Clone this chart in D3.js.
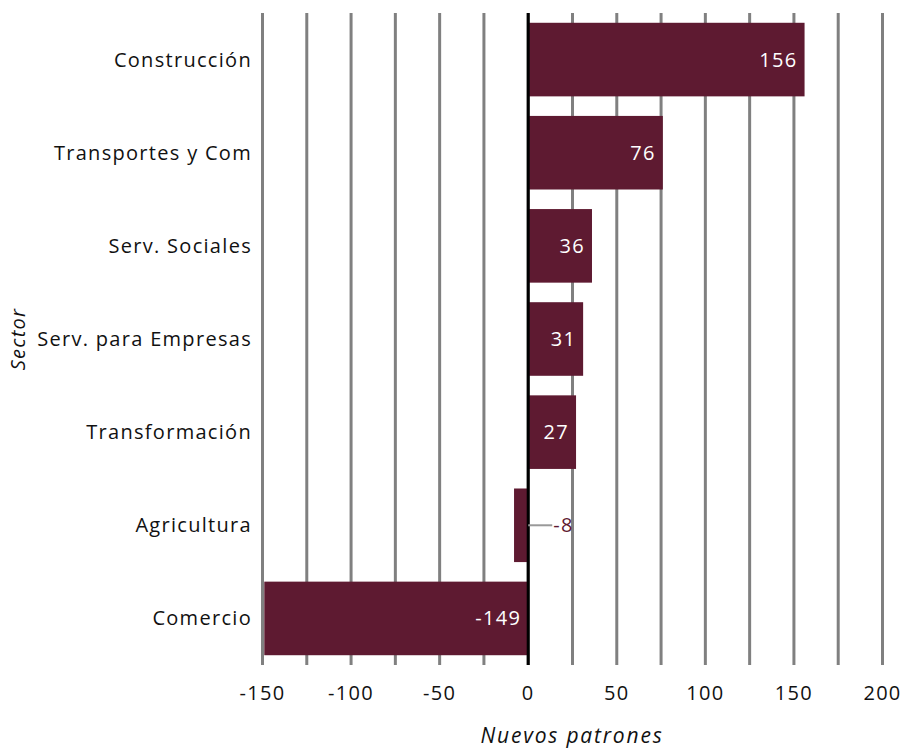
<!DOCTYPE html>
<html><head><meta charset="utf-8">
<script src="https://cdn.jsdelivr.net/npm/d3@7"></script>
<style>body{margin:0;background:#fff;} text{font-family:"Open Sans","Noto Sans",sans-serif;letter-spacing:1.3px;}</style>
</head><body>
<svg id="c" width="904" height="749"></svg>
<script>
const categories = ["Construcción","Transportes y Com","Serv. Sociales","Serv. para Empresas","Transformación","Agricultura","Comercio"];
const values = [156,76,36,31,27,-8,-149];
const ticks = [-150,-100,-50,0,50,100,150,200];
const gridTicks = d3.range(-150,201,25);

const svg = d3.select("#c");
const color = "#5e1a31";
const fs = 20;
const x = d3.scaleLinear().domain([-150,200]).range([262.5,882.5]);
const y = d3.scaleBand().domain(categories).range([13,665]).paddingInner(0.21).paddingOuter(0.105);

// grid
svg.append("g").selectAll("line").data(gridTicks).join("line")
  .attr("x1",d=>x(d)).attr("x2",d=>x(d)).attr("y1",13).attr("y2",665)
  .attr("stroke","#808080").attr("stroke-width",3);

// bars
svg.append("g").selectAll("rect").data(values).join("rect")
  .attr("x",d=>x(Math.min(0,d))).attr("width",d=>Math.abs(x(d)-x(0)))
  .attr("y",(d,i)=>y(categories[i])).attr("height",y.bandwidth())
  .attr("fill",color);

// zero line
svg.append("line").attr("x1",x(0)).attr("x2",x(0)).attr("y1",13).attr("y2",665)
  .attr("stroke","#000").attr("stroke-width",3);

// value labels
values.forEach((v,i)=>{
  const cy = y(categories[i]) + y.bandwidth()/2;
  const w = Math.abs(x(v)-x(0));
  if (w > 40) {
    const tx = v>0 ? x(v)-7 : x(0)-7;
    svg.append("text").attr("x",tx).attr("y",cy).attr("dy","0.35em")
      .attr("text-anchor","end").attr("fill","#fff").attr("font-size",fs).text(v);
  } else {
    svg.append("line").attr("x1",x(0)).attr("x2",x(0)+24).attr("y1",cy).attr("y2",cy)
      .attr("stroke","#999").attr("stroke-width",2);
    svg.append("text").attr("x",x(0)+25).attr("y",cy).attr("dy","0.35em")
      .attr("text-anchor","start").attr("fill",color).attr("font-size",fs).text(v);
  }
});

// category labels
svg.append("g").selectAll("text").data(categories).join("text")
  .attr("x",252).attr("y",d=>y(d)+y.bandwidth()/2).attr("dy","0.35em")
  .attr("text-anchor","end").attr("font-size",fs).attr("fill","#111").text(d=>d);

// tick labels
svg.append("g").selectAll("text").data(ticks).join("text")
  .attr("x",d=>x(d)).attr("y",693).attr("dy","0.35em")
  .attr("text-anchor","middle").attr("font-size",fs).attr("fill","#111").text(d=>d);

// axis titles
svg.append("text").attr("x",572).attr("y",736).attr("dy","0.35em").attr("text-anchor","middle")
  .attr("font-size",21).attr("font-style","italic").attr("fill","#111").style("letter-spacing","1.8px").text("Nuevos patrones");
svg.append("text").attr("transform","translate(18,339) rotate(-90)").attr("dy","0.35em")
  .attr("text-anchor","middle").attr("font-size",fs).attr("font-style","italic").attr("fill","#111").text("Sector");
</script>
</body></html>
